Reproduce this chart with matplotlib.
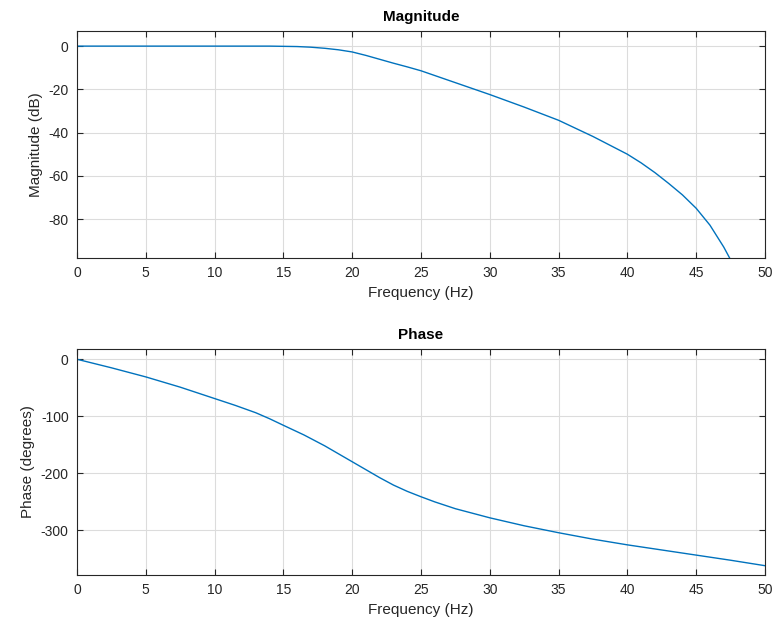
import matplotlib
matplotlib.use("Agg")
import matplotlib.pyplot as plt

plt.rcParams['font.family'] = ['Liberation Sans', 'DejaVu Sans']
plt.rcParams['axes.unicode_minus'] = False

# frequency response samples (Hz, dB, degrees)
mag_freq = [0, 5, 10, 14, 16, 17, 18, 19, 20, 21, 22, 23, 24, 25, 27.5, 30,
            32.5, 35, 37.5, 40, 41, 42, 43, 44, 45, 46, 47, 47.5, 48]
mag_db = [0, 0, 0, 0, -0.2, -0.5, -1.0, -1.7, -2.7, -4.3, -6.1, -7.9, -9.6,
          -11.4, -16.9, -22.4, -28.2, -34.3, -41.8, -50.0, -54.0, -58.5,
          -63.5, -68.8, -75.0, -82.8, -92.9, -98.8, -107.0]

phase_freq = [0, 2.5, 5, 7.5, 10, 11.5, 13, 14, 15, 16.5, 18, 19, 20, 21, 22,
              23, 24, 25, 26, 27.5, 30, 32.5, 35, 37.5, 40, 42.5, 45, 47.5, 50]
phase_deg = [0, -15, -31, -49, -69, -81, -94, -104.5, -116, -133, -152,
             -166, -180, -194, -208, -221, -232, -241.5, -250.5, -262.5,
             -278.5, -292.5, -304.7, -316, -326, -335, -344, -353, -362.6]

freq_ticks = [0, 5, 10, 15, 20, 25, 30, 35, 40, 45, 50]
mag_ticks = [0, -20, -40, -60, -80]
phase_ticks = [0, -100, -200, -300]

line_color = '#0072BD'
axis_color = '#262626'

fig = plt.figure(figsize=(7.76, 6.31), dpi=100)
ax1 = fig.add_axes([0.0992, 0.5911, 0.8866, 0.3598])
ax2 = fig.add_axes([0.0992, 0.0887, 0.8866, 0.3582])


def style_axes(ax, yticks, ylim, title, ylabel):
    ax.set_xlim(0, 50)
    ax.set_ylim(*ylim)
    ax.set_xticks(freq_ticks)
    ax.set_yticks(yticks)
    ax.grid(True, color='#dcdcdc', linewidth=0.8)
    ax.set_axisbelow(True)
    ax.tick_params(direction='in', top=True, right=True, length=4,
                   width=0.8, color=axis_color, labelcolor=axis_color,
                   labelsize=10, pad=6)
    for sp in ax.spines.values():
        sp.set_color(axis_color)
        sp.set_linewidth(0.8)
    ax.set_title(title, fontsize=11, fontweight='bold', pad=7)
    ax.set_xlabel('Frequency (Hz)', fontsize=11, color=axis_color)
    ax.set_ylabel(ylabel, fontsize=11, color=axis_color)


ax1.plot(mag_freq, mag_db, color=line_color, linewidth=1.0)
style_axes(ax1, mag_ticks, (-98, 7), 'Magnitude', 'Magnitude (dB)')

ax2.plot(phase_freq, phase_deg, color=line_color, linewidth=1.0)
style_axes(ax2, phase_ticks, (-379, 18), 'Phase', 'Phase (degrees)')

fig.savefig('out.png', dpi=100)
